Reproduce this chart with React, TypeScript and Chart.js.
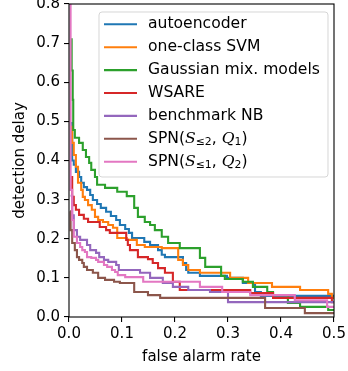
import React, { useEffect, useRef } from 'react';
import { Chart, registerables } from 'chart.js';

Chart.register(...registerables);

// ---------- data ----------
const xTickValues = [0, 0.1, 0.2, 0.3, 0.4, 0.5];
const yTickValues = [0, 0.1, 0.2, 0.3, 0.4, 0.5, 0.6, 0.7, 0.8];

const seriesLabels = [
  'autoencoder',
  'one-class SVM',
  'Gaussian mix. models',
  'WSARE',
  'benchmark NB',
  'SPN($S$_{≤2}, $Q$_{1})',
  'SPN($S$_{≤1}, $Q$_{2})',
];
const seriesColors = ['#1f77b4', '#ff7f0e', '#2ca02c', '#d62728', '#9467bd', '#8c564b', '#e377c2'];

const autoencoder: number[][] = [
  [0.003, 0.496], [0.006, 0.40], [0.009, 0.389], [0.013, 0.371], [0.019, 0.358], [0.023, 0.343],
  [0.028, 0.332], [0.034, 0.325], [0.040, 0.312], [0.045, 0.299], [0.053, 0.289], [0.060, 0.279],
  [0.070, 0.269], [0.079, 0.258], [0.089, 0.248], [0.096, 0.235], [0.106, 0.225], [0.113, 0.215],
  [0.119, 0.202], [0.142, 0.192], [0.153, 0.184], [0.168, 0.171], [0.175, 0.159], [0.181, 0.153],
  [0.215, 0.138], [0.221, 0.120], [0.225, 0.113], [0.247, 0.105], [0.298, 0.100], [0.328, 0.087],
  [0.351, 0.064], [0.362, 0.054], [0.5, 0.054],
];
const oneClassSvm: number[][] = [
  [0.003, 0.486], [0.006, 0.445], [0.009, 0.414], [0.013, 0.384], [0.017, 0.343], [0.023, 0.325],
  [0.026, 0.307], [0.030, 0.299], [0.036, 0.286], [0.043, 0.274], [0.049, 0.256], [0.055, 0.248],
  [0.064, 0.243], [0.074, 0.235], [0.083, 0.228], [0.091, 0.202], [0.109, 0.197], [0.128, 0.184],
  [0.143, 0.179], [0.175, 0.176], [0.206, 0.146], [0.215, 0.133], [0.225, 0.120], [0.247, 0.113],
  [0.304, 0.100], [0.338, 0.087], [0.383, 0.077], [0.436, 0.069], [0.489, 0.059], [0.496, 0.049],
  [0.5, 0.049],
];
const gaussianMix: number[][] = [
  [0.003, 0.71], [0.005, 0.63], [0.007, 0.555], [0.008, 0.478], [0.011, 0.458], [0.019, 0.445],
  [0.026, 0.427], [0.032, 0.409], [0.038, 0.394], [0.042, 0.376], [0.049, 0.358], [0.053, 0.338],
  [0.068, 0.330], [0.091, 0.320], [0.109, 0.309], [0.123, 0.279], [0.130, 0.256], [0.143, 0.243],
  [0.153, 0.235], [0.162, 0.222], [0.175, 0.205], [0.187, 0.189], [0.209, 0.176], [0.247, 0.151],
  [0.257, 0.128], [0.287, 0.105], [0.294, 0.097], [0.328, 0.090], [0.347, 0.077], [0.374, 0.064],
  [0.385, 0.056], [0.413, 0.036], [0.436, 0.026], [0.489, 0.018], [0.5, 0.018],
];
const wsare: number[][] = [
  [0.004, 0.358], [0.006, 0.307], [0.009, 0.286], [0.013, 0.274], [0.019, 0.261], [0.028, 0.251],
  [0.036, 0.243], [0.058, 0.230], [0.070, 0.222], [0.077, 0.215], [0.108, 0.197], [0.111, 0.184],
  [0.115, 0.171], [0.130, 0.153], [0.149, 0.148], [0.158, 0.138], [0.168, 0.125], [0.181, 0.113],
  [0.196, 0.090], [0.209, 0.069], [0.342, 0.061], [0.385, 0.049], [0.496, 0.038], [0.5, 0.038],
];
const benchmarkNb: number[][] = [
  [0.003, 0.31], [0.006, 0.26], [0.009, 0.222], [0.015, 0.205], [0.021, 0.197], [0.034, 0.184],
  [0.040, 0.171], [0.051, 0.164], [0.057, 0.153], [0.066, 0.146], [0.074, 0.141], [0.089, 0.133],
  [0.094, 0.120], [0.134, 0.113], [0.153, 0.100], [0.177, 0.087], [0.196, 0.077], [0.225, 0.069],
  [0.266, 0.064], [0.300, 0.038], [0.5, 0.038],
];
const spnS2Q1: number[][] = [
  [0.002, 0.27], [0.003, 0.222], [0.006, 0.189], [0.011, 0.171], [0.015, 0.153], [0.019, 0.146],
  [0.025, 0.138], [0.028, 0.128], [0.034, 0.120], [0.045, 0.113], [0.055, 0.100], [0.068, 0.095],
  [0.085, 0.090], [0.096, 0.087], [0.123, 0.064], [0.149, 0.056], [0.172, 0.049], [0.370, 0.023],
  [0.445, 0.010], [0.5, 0.010],
];
const spnS1Q2: number[][] = [
  [0.002, 0.85], [0.003, 0.325], [0.006, 0.248], [0.009, 0.205], [0.015, 0.189], [0.021, 0.179],
  [0.025, 0.171], [0.030, 0.166], [0.034, 0.153], [0.042, 0.151], [0.051, 0.146], [0.055, 0.141],
  [0.066, 0.133], [0.072, 0.128], [0.081, 0.120], [0.087, 0.115], [0.092, 0.107], [0.106, 0.102],
  [0.140, 0.090], [0.247, 0.077], [0.289, 0.064], [0.342, 0.056], [0.426, 0.043], [0.487, 0.026],
  [0.5, 0.026],
];
const seriesData = [autoencoder, oneClassSvm, gaussianMix, wsare, benchmarkNb, spnS2Q1, spnS1Q2];

// ---------- styling ----------
const FONT = "'DejaVu Sans'";
const FS = 15;
const LEGEND_FS = 15.6;

type Part = { t: string; kind: 'n' | 'i' | 's' };
function parseLabel(label: string): Part[] {
  const parts: Part[] = [];
  const re = /\$([^$]*)\$|_\{([^}]*)\}|([^$_]+)/g;
  let m: RegExpExecArray | null;
  while ((m = re.exec(label)) !== null) {
    if (m[1] !== undefined) parts.push({ t: m[1], kind: 'i' });
    else if (m[2] !== undefined) parts.push({ t: m[2], kind: 's' });
    else parts.push({ t: m[3], kind: 'n' });
  }
  return parts;
}

const framePlugin = {
  id: 'frame',
  afterDatasetsDraw(chart: any) {
    const { ctx, chartArea } = chart;
    ctx.save();
    ctx.strokeStyle = '#000';
    ctx.lineWidth = 1.1;
    ctx.strokeRect(chartArea.left, chartArea.top, chartArea.right - chartArea.left, chartArea.bottom - chartArea.top);
    ctx.restore();
  },
};

const legendPlugin = {
  id: 'mplLegend',
  afterDraw(chart: any) {
    const { ctx, chartArea } = chart;
    const right = chartArea.right - 6;
    const top = chartArea.top + 8;
    const left = 99;
    const bottom = 177;
    ctx.save();
    const r = 3;
    ctx.beginPath();
    ctx.moveTo(left + r, top);
    ctx.lineTo(right - r, top);
    ctx.arcTo(right, top, right, top + r, r);
    ctx.lineTo(right, bottom - r);
    ctx.arcTo(right, bottom, right - r, bottom, r);
    ctx.lineTo(left + r, bottom);
    ctx.arcTo(left, bottom, left, bottom - r, r);
    ctx.lineTo(left, top + r);
    ctx.arcTo(left, top, left + r, top, r);
    ctx.closePath();
    ctx.fillStyle = 'rgba(255,255,255,0.8)';
    ctx.fill();
    ctx.strokeStyle = 'rgba(204,204,204,0.8)';
    ctx.lineWidth = 1;
    ctx.stroke();

    const rowStart = top + 12.3;
    const rowStep = 22.9;
    chart.data.datasets.forEach((ds: any, i: number) => {
      const y = rowStart + i * rowStep;
      ctx.strokeStyle = ds.borderColor;
      ctx.lineWidth = 2.1;
      ctx.beginPath();
      ctx.moveTo(104, y);
      ctx.lineTo(137, y);
      ctx.stroke();
      let x = 148;
      ctx.fillStyle = '#000';
      ctx.textBaseline = 'middle';
      ctx.textAlign = 'left';
      for (const p of parseLabel(ds.label)) {
        let dy = 0;
        if (p.kind === 'i') ctx.font = `italic ${LEGEND_FS}px 'DejaVu Serif'`;
        else if (p.kind === 's') {
          ctx.font = `${LEGEND_FS * 0.7}px ${FONT}`;
          dy = 3.5;
        } else ctx.font = `${LEGEND_FS}px ${FONT}`;
        ctx.fillText(p.t, x, y + dy);
        x += ctx.measureText(p.t).width;
      }
    });
    ctx.restore();
  },
};

export default function App() {
  const ref = useRef<HTMLCanvasElement | null>(null);
  useEffect(() => {
    document.body.style.margin = '0';
    const canvas = ref.current;
    if (!canvas) return;
    const tickFont = { family: FONT, size: FS };
    const grid = {
      display: true,
      drawOnChartArea: false,
      drawTicks: true,
      tickLength: 5,
      color: '#000',
      lineWidth: 1.1,
    };
    const chart = new Chart(canvas, {
      type: 'line',
      data: {
        datasets: seriesData.map((d, i) => ({
          label: seriesLabels[i],
          data: d.map(([x, y]) => ({ x, y })),
          borderColor: seriesColors[i],
          backgroundColor: seriesColors[i],
          borderWidth: 2.1,
          pointRadius: 0,
          stepped: 'before' as const,
          fill: false,
          order: seriesData.length - i,
        })),
      },
      options: {
        animation: false,
        responsive: false,
        maintainAspectRatio: false,
        layout: { padding: { top: 4, right: 14, bottom: 0, left: 0 } },
        plugins: { legend: { display: false }, tooltip: { enabled: false } },
        scales: {
          x: {
            type: 'linear',
            min: 0,
            max: 0.5,
            afterBuildTicks: (s: any) => {
              s.ticks = xTickValues.map((v) => ({ value: v }));
            },
            ticks: {
              callback: (v: any) => Number(v).toFixed(1),
              color: '#000',
              font: tickFont,
              padding: 3,
              maxRotation: 0,
              autoSkip: false,
            },
            grid,
            border: { display: false },
            title: {
              display: true,
              text: 'false alarm rate',
              color: '#000',
              font: tickFont,
              padding: { top: 0, bottom: 5 },
            },
            afterFit: (s: any) => {
              s.height = 54;
              s.paddingLeft = 0;
              s.paddingRight = 0;
            },
          },
          y: {
            type: 'linear',
            min: 0,
            max: 0.8,
            afterBuildTicks: (s: any) => {
              s.ticks = yTickValues.map((v) => ({ value: v }));
            },
            ticks: {
              callback: (v: any) => Number(v).toFixed(1),
              color: '#000',
              font: tickFont,
              padding: 4,
              autoSkip: false,
            },
            grid,
            border: { display: false },
            title: {
              display: true,
              text: 'detection delay',
              color: '#000',
              font: tickFont,
              padding: { top: 11, bottom: 0 },
            },
            afterFit: (s: any) => {
              s.width = 69;
              s.paddingTop = 0;
              s.paddingBottom = 0;
            },
          },
        },
      },
      plugins: [framePlugin, legendPlugin],
    } as any);
    return () => chart.destroy();
  }, []);
  return <canvas ref={ref} width={348} height={371} style={{ display: 'block' }} />;
}
